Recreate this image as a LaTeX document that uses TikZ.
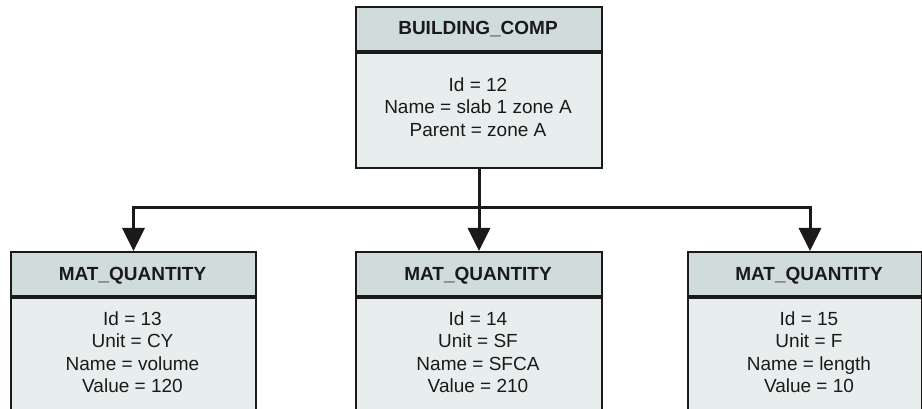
\documentclass[tikz,border=0pt]{standalone}
\usepackage{fontspec}
\setmainfont{Liberation Sans}
\usetikzlibrary{arrows.meta}
\definecolor{linec}{HTML}{1A1A1A}
\definecolor{textc}{HTML}{1A1A1A}
\definecolor{hdrfill}{HTML}{D0DCDC}
\definecolor{bdyfill}{HTML}{E8EEEE}
\tikzset{
  hdr/.style={draw=linec, line width=2pt, fill=hdrfill, minimum height=44pt, inner sep=0pt},
  bdy/.style={draw=linec, line width=2pt, fill=bdyfill, inner sep=0pt},
  htext/.style={font=\bfseries\fontsize{19}{22}\selectfont, text=textc, inner sep=0pt},
  btext/.style={font=\fontsize{19}{22}\selectfont, text=textc, inner sep=0pt},
  conn/.style={line width=3pt, draw=linec},
  arr/.style={conn, -{Triangle[length=23pt,width=22pt]}}
}
\begin{document}
\begin{tikzpicture}[x=1pt,y=-1pt]
\useasboundingbox (0,0) rectangle (922,409);
\clip (0,0) rectangle (922,409);
\fill[white] (0,0) rectangle (922,409);
% top box
\node[hdr, minimum width=246pt, anchor=north west] (tophead) at (355,6) {};
\node[bdy, minimum width=246pt, minimum height=115pt, anchor=north] (topbody) at (tophead.south) {};
\node[htext, anchor=base] (toptitle) at (478,35) {BUILDING\_COMP};
\foreach \t [count=\i] in {Id = 12, Name = slab 1 zone A, Parent = zone A}
  \node[btext, anchor=base] (topl\i) at ({478},{91.7+22.2*(\i-1)}) {\t};
% bottom boxes
\node[hdr, minimum width=245pt, anchor=north west] (h1) at (10,251) {};
\node[bdy, minimum width=245pt, minimum height=140pt, anchor=north] (b1) at (h1.south) {};
\node[hdr, minimum width=246pt, anchor=north west] (h2) at (355,251) {};
\node[bdy, minimum width=246pt, minimum height=140pt, anchor=north] (b2) at (h2.south) {};
\node[hdr, minimum width=234pt, anchor=north west] (h3) at (687,251) {};
\node[bdy, minimum width=234pt, minimum height=140pt, anchor=north] (b3) at (h3.south) {};
\node[htext, anchor=base] (t1) at (132.5,280) {MAT\_QUANTITY};
\node[htext, anchor=base] (t2) at (478,280) {MAT\_QUANTITY};
\node[htext, anchor=base] (t3) at (809,280) {MAT\_QUANTITY};
\foreach \t [count=\i] in {Id = 13, Unit = CY, Name = volume, Value = 120}
  \node[btext, anchor=base] (ba\i) at ({132.5},{325+22.6*(\i-1)}) {\t};
\foreach \t [count=\i] in {Id = 14, Unit = SF, Name = SFCA, Value = 210}
  \node[btext, anchor=base] (bb\i) at ({478},{325+22.6*(\i-1)}) {\t};
\foreach \t [count=\i] in {Id = 15, Unit = F, Name = length, Value = 10}
  \node[btext, anchor=base] (bc\i) at ({809},{325+22.6*(\i-1)}) {\t};
% connectors
\coordinate (junction) at (478,208);
\coordinate (jr) at (810,208);
\draw[arr] (topbody.south) -- (h2.north);
\draw[arr] (junction) -| (h1.north);
\draw[arr] (junction) -| (jr |- h3.north);
\end{tikzpicture}
\end{document}
